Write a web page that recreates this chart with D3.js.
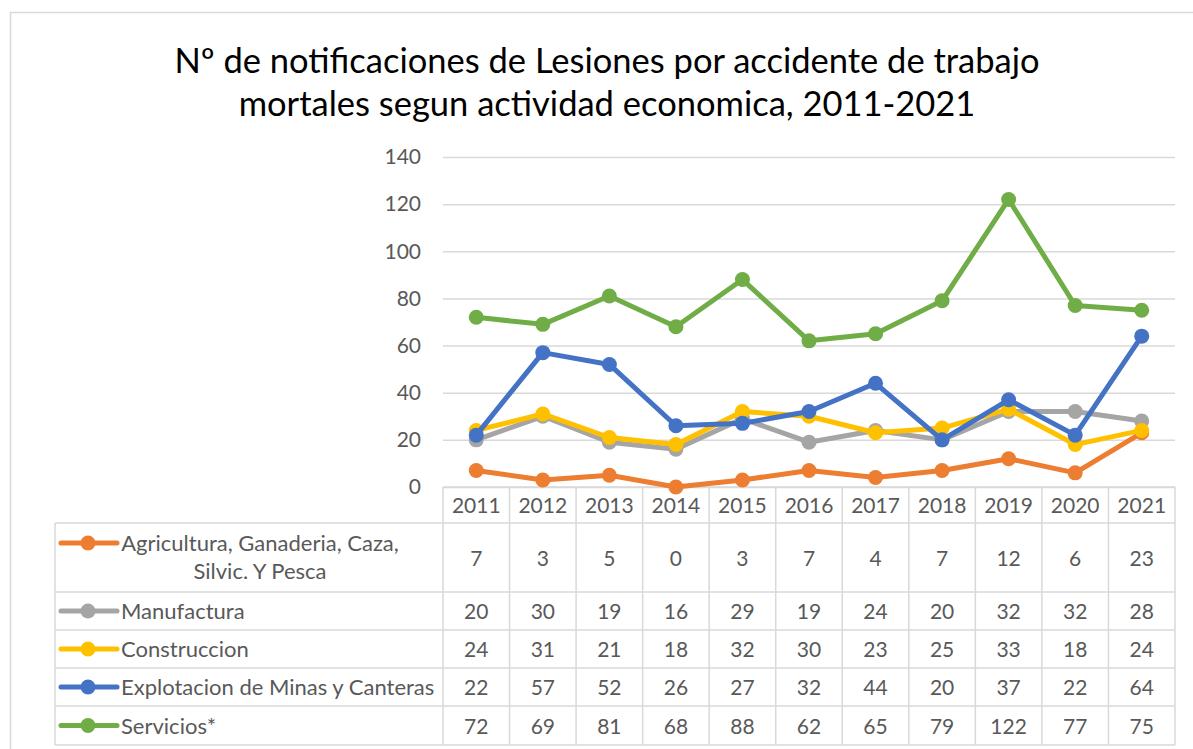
<!DOCTYPE html>
<html>
<head>
<meta charset="utf-8">
<script src="https://cdn.jsdelivr.net/npm/d3@7"></script>
<style>
  body { margin: 0; background: #fff; }
  text { font-family: Lato, "Open Sans", sans-serif; fill: #595959; }
</style>
</head>
<body>
<div id="chart"></div>
<script>
var years = ["2011", "2012", "2013", "2014", "2015", "2016", "2017", "2018", "2019", "2020", "2021"];
var agricultura = [7, 3, 5, 0, 3, 7, 4, 7, 12, 6, 23];
var manufactura = [20, 30, 19, 16, 29, 19, 24, 20, 32, 32, 28];
var construccion = [24, 31, 21, 18, 32, 30, 23, 25, 33, 18, 24];
var minas = [22, 57, 52, 26, 27, 32, 44, 20, 37, 22, 64];
var servicios = [72, 69, 81, 68, 88, 62, 65, 79, 122, 77, 75];
var seriesNames = [["Agricultura, Ganaderia, Caza,", "Silvic. Y Pesca"], ["Manufactura"], ["Construccion"], ["Explotacion de Minas y Canteras"], ["Servicios*"]];
var yTicks = [0, 20, 40, 60, 80, 100, 120, 140];

var colors = ["#ED7D31", "#A5A5A5", "#FFC000", "#4472C4", "#70AD47"];
var series = [agricultura, manufactura, construccion, minas, servicios];

const width = 1193;
const height = 749;
const plotLeft = 443, plotRight = 1175, plotTop = 157, plotBottom = 487;
const tableLeft = 55;
const rowEdges = [523, 592, 630, 668, 706, 745]; // row boundaries below the year header
const numSize = "21px", nameSize = "22px";

const svg = d3.select("#chart").append("svg")
    .attr("width", width)
    .attr("height", height);

// outer chart border
svg.append("path")
    .attr("d", `M10.5,${height} V12.5 H${width}`)
    .attr("fill", "none")
    .attr("stroke", "#d9d9d9")
    .attr("stroke-width", 1.5);

// title
svg.append("text")
    .attr("x", 607).attr("y", 73)
    .attr("text-anchor", "middle")
    .style("font-size", "34.5px")
    .style("fill", "#000")
    .text("Nº de notificaciones de Lesiones por accidente de trabajo");
svg.append("text")
    .attr("x", 607).attr("y", 116)
    .attr("text-anchor", "middle")
    .style("font-size", "34.5px")
    .style("fill", "#000")
    .text("mortales segun actividad economica, 2011-2021");

var x = d3.scaleBand().domain(years).range([plotLeft, plotRight]);
var y = d3.scaleLinear().domain([0, 140]).range([plotBottom, plotTop]);
var cx = (d) => x(d) + x.bandwidth() / 2;

// gridlines + y labels
const yAxis = svg.append("g")
    .attr("transform", `translate(${plotLeft},0)`)
    .call(d3.axisLeft(y).tickValues(yTicks).tickSize(-(plotRight - plotLeft)).tickPadding(22));
yAxis.select(".domain").remove();
yAxis.selectAll(".tick line").attr("stroke", "#d9d9d9").attr("stroke-width", 1.5);
yAxis.selectAll(".tick text").style("font-size", numSize).style("font-family", "Lato, sans-serif").attr("fill", "#595959");

// data table grid
const grid = svg.append("g").attr("stroke", "#d9d9d9").attr("stroke-width", 1.5);
grid.append("line").attr("x1", plotLeft).attr("x2", plotRight).attr("y1", plotBottom).attr("y2", plotBottom);
rowEdges.forEach((r) => {
    grid.append("line").attr("x1", tableLeft).attr("x2", plotRight).attr("y1", r).attr("y2", r);
});
grid.append("line").attr("x1", tableLeft).attr("x2", tableLeft).attr("y1", rowEdges[0]).attr("y2", rowEdges[5]);
years.forEach((yr) => {
    grid.append("line").attr("x1", x(yr)).attr("x2", x(yr)).attr("y1", plotBottom).attr("y2", rowEdges[5]);
});
grid.append("line").attr("x1", plotRight).attr("x2", plotRight).attr("y1", plotBottom).attr("y2", rowEdges[5]);

// year headers
svg.selectAll("text.year")
    .data(years)
    .enter()
    .append("text")
    .attr("class", "year")
    .attr("x", cx)
    .attr("y", 513)
    .attr("text-anchor", "middle")
    .style("font-size", numSize)
    .text((d) => d);

// lines
var line = d3.line().x((d, i) => cx(years[i])).y((d) => y(d));

series.forEach((s, k) => {
    const g = svg.append("g");
    g.append("path")
        .datum(s)
        .attr("d", line)
        .attr("fill", "none")
        .attr("stroke", colors[k])
        .attr("stroke-width", 5)
        .attr("stroke-linejoin", "round");
    g.selectAll("circle")
        .data(s)
        .enter()
        .append("circle")
        .attr("cx", (d, i) => cx(years[i]))
        .attr("cy", (d) => y(d))
        .attr("r", 7.5)
        .attr("fill", colors[k]);
});

// table rows: legend key, name, values
series.forEach((s, k) => {
    const r0 = rowEdges[k], r1 = rowEdges[k + 1];
    const mid = (r0 + r1) / 2;
    const keyY = k == 0 ? 543 : mid;
    svg.append("line")
        .attr("x1", 61).attr("x2", 117)
        .attr("y1", keyY).attr("y2", keyY)
        .attr("stroke", colors[k]).attr("stroke-width", 5)
        .attr("stroke-linecap", "round");
    svg.append("circle").attr("cx", 88).attr("cy", keyY).attr("r", 7.5).attr("fill", colors[k]);

    if (k == 0) {
        seriesNames[k].forEach((t, j) => {
            svg.append("text")
                .attr("x", 260).attr("y", 551 + j * 28)
                .attr("text-anchor", "middle")
                .style("font-size", nameSize)
                .text(t);
        });
    } else {
        svg.append("text")
            .attr("x", 121).attr("y", mid + 8)
            .style("font-size", nameSize)
            .text(seriesNames[k][0]);
    }

    svg.selectAll(null)
        .data(s)
        .enter()
        .append("text")
        .attr("x", (d, i) => cx(years[i]))
        .attr("y", mid + 8)
        .attr("text-anchor", "middle")
        .style("font-size", numSize)
        .text((d) => d);
});
</script>
</body>
</html>
